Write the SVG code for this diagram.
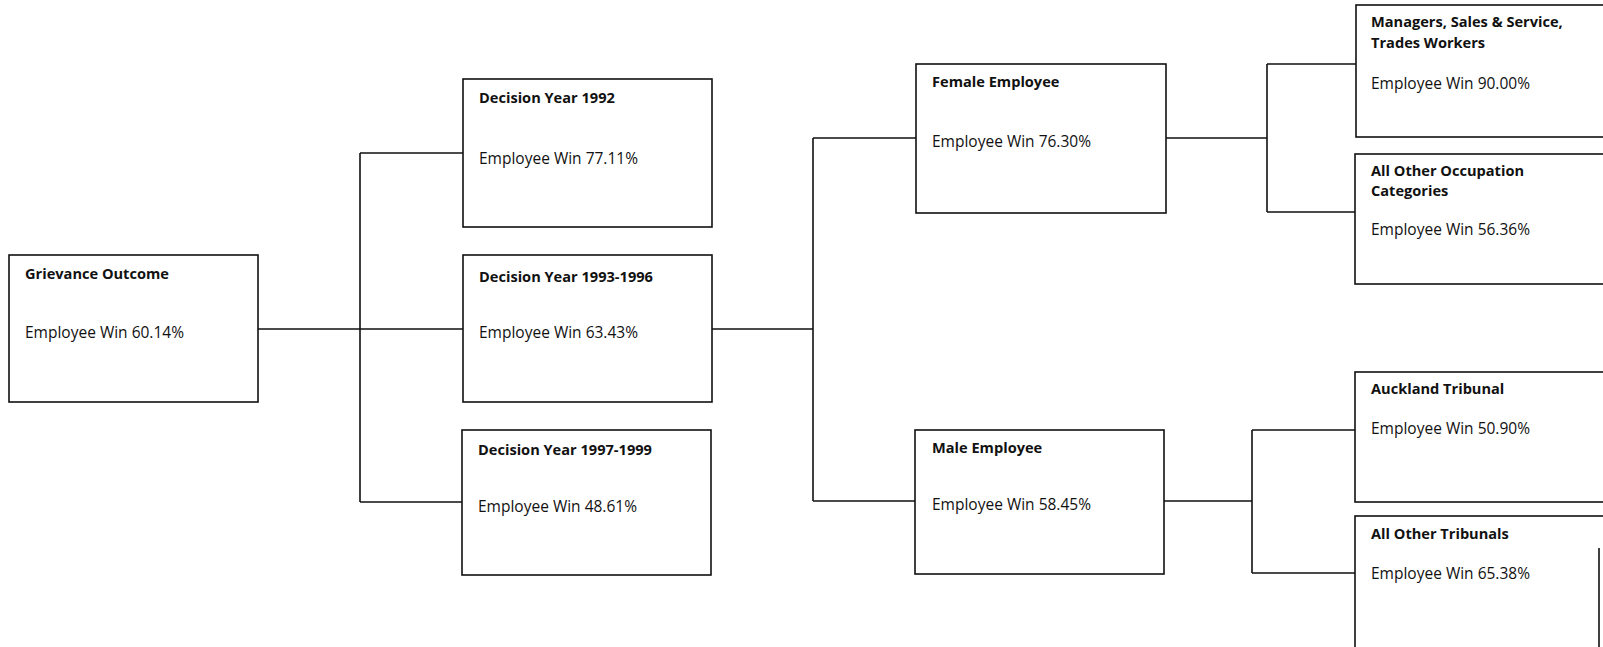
<svg xmlns="http://www.w3.org/2000/svg" width="1603" height="647" viewBox="0 0 1603 647">
<style>
.box{fill:#fff;stroke:#111;stroke-width:1.6}
.c{fill:none;stroke:#111;stroke-width:1.6}
text{font-family:"Open Sans","Liberation Sans",sans-serif;font-size:15.5px;fill:#111}
.t{font-weight:700;font-size:14.6px}
</style>
<rect width="1603" height="647" fill="#fff"/>
<g id="connectors">
<path class="c" d="M258,329H360M360,153V502M360,153H463M360,329H463M360,502H462"/>
<path class="c" d="M712,329H813M813,138V501M813,138H916M813,501H915"/>
<path class="c" d="M1166,138H1267M1267,64V212M1267,64H1356M1267,212H1355"/>
<path class="c" d="M1164,501H1252M1252,430V573M1252,430H1355M1252,573H1355"/>
</g>
<g id="root">
<rect class="box" x="9" y="255" width="249" height="147"/>
<text class="t" x="25" y="279">Grievance Outcome</text>
<text x="25" y="338">Employee Win 60.14%</text>
</g>
<g id="dy1992">
<rect class="box" x="463" y="79" width="249" height="148"/>
<text class="t" x="479" y="103">Decision Year 1992</text>
<text x="479" y="164">Employee Win 77.11%</text>
</g>
<g id="dy1993">
<rect class="box" x="463" y="255" width="249" height="147"/>
<text class="t" x="479" y="282">Decision Year 1993-1996</text>
<text x="479" y="338">Employee Win 63.43%</text>
</g>
<g id="dy1997">
<rect class="box" x="462" y="430" width="249" height="145"/>
<text class="t" x="478" y="455">Decision Year 1997-1999</text>
<text x="478" y="512">Employee Win 48.61%</text>
</g>
<g id="female">
<rect class="box" x="916" y="64" width="250" height="149"/>
<text class="t" x="932" y="87">Female Employee</text>
<text x="932" y="147">Employee Win 76.30%</text>
</g>
<g id="male">
<rect class="box" x="915" y="430" width="249" height="144"/>
<text class="t" x="932" y="453">Male Employee</text>
<text x="932" y="510">Employee Win 58.45%</text>
</g>
<g id="managers">
<rect class="box" x="1356" y="5" width="260" height="132"/>
<text class="t" x="1371" y="27">Managers, Sales &amp; Service,</text>
<text class="t" x="1371" y="48">Trades Workers</text>
<text x="1371" y="89">Employee Win 90.00%</text>
</g>
<g id="other-occupation">
<rect class="box" x="1355" y="154" width="260" height="130"/>
<text class="t" x="1371" y="176">All Other Occupation</text>
<text class="t" x="1371" y="196">Categories</text>
<text x="1371" y="235">Employee Win 56.36%</text>
</g>
<g id="auckland">
<rect class="box" x="1355" y="372" width="260" height="130"/>
<text class="t" x="1371" y="394">Auckland Tribunal</text>
<text x="1371" y="434">Employee Win 50.90%</text>
</g>
<g id="other-tribunals">
<rect class="box" x="1355" y="516" width="260" height="140"/>
<line class="c" x1="1599" y1="548" x2="1599" y2="647"/>
<text class="t" x="1371" y="539">All Other Tribunals</text>
<text x="1371" y="579">Employee Win 65.38%</text>
</g>
</svg>
